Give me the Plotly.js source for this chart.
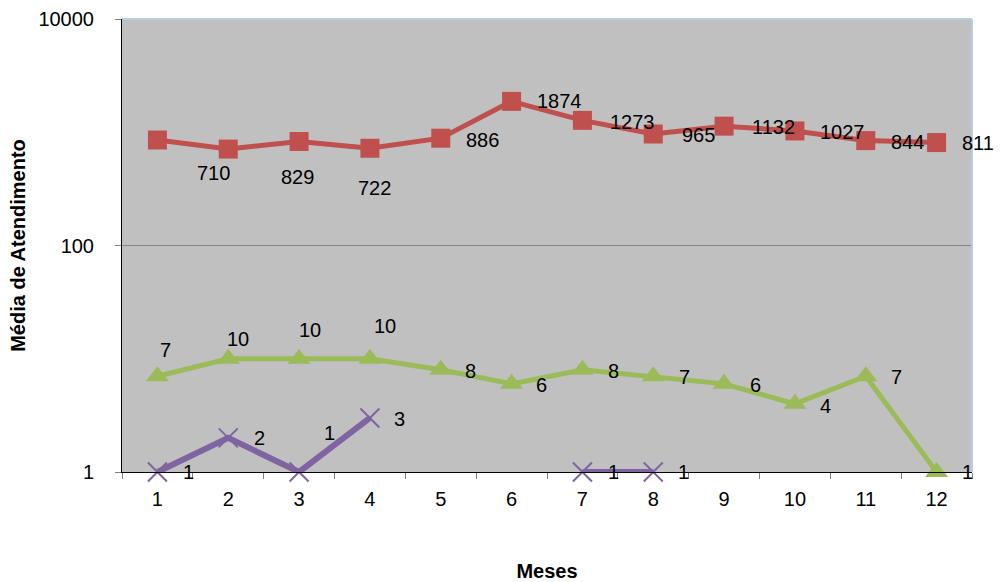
<!DOCTYPE html>
<html>
<head>
<meta charset="utf-8">
<script src="https://cdn.plot.ly/plotly-3.0.1.min.js"></script>
<style>html,body{margin:0;padding:0;background:#fff;}#chart{width:1000px;height:582px;}</style>
</head>
<body>
<div id="chart"></div>
<script>
// Data
const months = ['1','2','3','4','5','6','7','8','9','10','11','12'];
const redValues = [854, 710, 829, 722, 886, 1874, 1273, 965, 1132, 1027, 844, 811];
const redLabels = ['', '710', '829', '722', '886', '1874', '1273', '965', '1132', '1027', '844', '811'];
const greenValues = [7, 10, 10, 10, 8, 6, 8, 7, 6, 4, 7, 1];
const greenLabels = ['7', '10', '10', '10', '8', '6', '8', '7', '6', '4', '7', '1'];
const purpleValues = [1, 2, 1, 3, null, null, 1, 1, null, null, null, null];
const purpleLabels = ['1', '2', '1', '3', '', '', '1', '1', '', '', '', ''];

// Label offsets in pixels [dx, dy(down)] (style only)
const redOffsets = [[0,0],[-15,24],[-2,36],[5,40],[42,2],[48,0],[50,2],[45,1],[49,1],[48,1],[42,1],[41,0]];
const greenOffsets = [[8,-26],[10,-20],[11,-29],[15,-33],[30,1],[30,1],[31,1],[31,1],[31,1],[31,2],[31,1],[31,0]];
const purpleOffsets = [[31,0],[31,0],[30,-39],[30,1],[0,0],[0,0],[31,0],[30,0],[0,0],[0,0],[0,0],[0,0]];

const RED = '#C0504D', GREEN = '#9BBB59', PURPLE = '#8064A2';
const FONT = 'Arial, "Liberation Sans", sans-serif';

const traces = [
  {x: months, y: redValues, type: 'scatter', mode: 'lines+markers', cliponaxis: false,
   line: {color: RED, width: 5}, marker: {symbol: 'square', size: 19, color: RED}},
  {x: months, y: greenValues, type: 'scatter', mode: 'lines+markers', cliponaxis: false,
   line: {color: GREEN, width: 5}, marker: {symbol: 'triangle-up', size: 20, color: GREEN}},
  {x: months, y: purpleValues, type: 'scatter', mode: 'lines+markers', cliponaxis: false, connectgaps: false,
   line: {color: PURPLE, width: 6}, marker: {symbol: 'x-thin', size: 19, color: PURPLE, line: {color: PURPLE, width: 2}}}
];

const annotations = [];
function addLabels(values, labels, offsets) {
  values.forEach((v, i) => {
    if (v === null || !labels[i]) return;
    // category axis: annotation x given as the category index
    annotations.push({x: i, y: Math.log10(v), xref: 'x', yref: 'y', text: labels[i],
      showarrow: false, xshift: offsets[i][0], yshift: -offsets[i][1],
      font: {family: FONT, size: 20, color: '#000'}});
  });
}
addLabels(redValues, redLabels, redOffsets);
addLabels(greenValues, greenLabels, greenOffsets);
addLabels(purpleValues, purpleLabels, purpleOffsets);

const layout = {
  width: 1000, height: 582,
  margin: {l: 122, r: 28, t: 19, b: 110},
  paper_bgcolor: '#fff', plot_bgcolor: '#C0C0C0',
  showlegend: false,
  font: {family: FONT, size: 20, color: '#000'},
  xaxis: {type: 'category', categoryorder: 'array', categoryarray: months,
    range: [-0.5, months.length - 0.5], autorange: false,
    tickson: 'boundaries', ticks: 'outside', ticklen: 6, tickcolor: '#808080', ticklabelstandoff: 9,
    showline: true, linecolor: '#000', linewidth: 1, showgrid: false, zeroline: false,
    tickfont: {family: FONT, size: 20},
    title: {text: '<b>Meses</b>', font: {family: FONT, size: 20}, standoff: 54}},
  yaxis: {type: 'log', range: [0, 4], autorange: false, tickvals: [1, 100, 10000], ticktext: ['1', '100', '10000'],
    ticks: 'outside', ticklen: 6, tickcolor: '#808080', ticklabelstandoff: 17,
    showline: true, linecolor: '#000', linewidth: 1, showgrid: true, gridcolor: '#868686', gridwidth: 1, zeroline: false,
    tickfont: {family: FONT, size: 20},
    title: {text: '<b>Média de Atendimento</b>', font: {family: FONT, size: 20}, standoff: 7}},
  annotations: annotations,
  shapes: [
    {type: 'line', xref: 'paper', yref: 'paper', x0: 0, x1: 1, y0: 1, y1: 1, line: {color: '#B8CCE4', width: 2}},
    {type: 'line', xref: 'paper', yref: 'paper', x0: 1, x1: 1, y0: 0, y1: 1, line: {color: '#B8CCE4', width: 2}}
  ]
};

Plotly.newPlot('chart', traces, layout, {displayModeBar: false, staticPlot: true});
</script>
</body>
</html>
